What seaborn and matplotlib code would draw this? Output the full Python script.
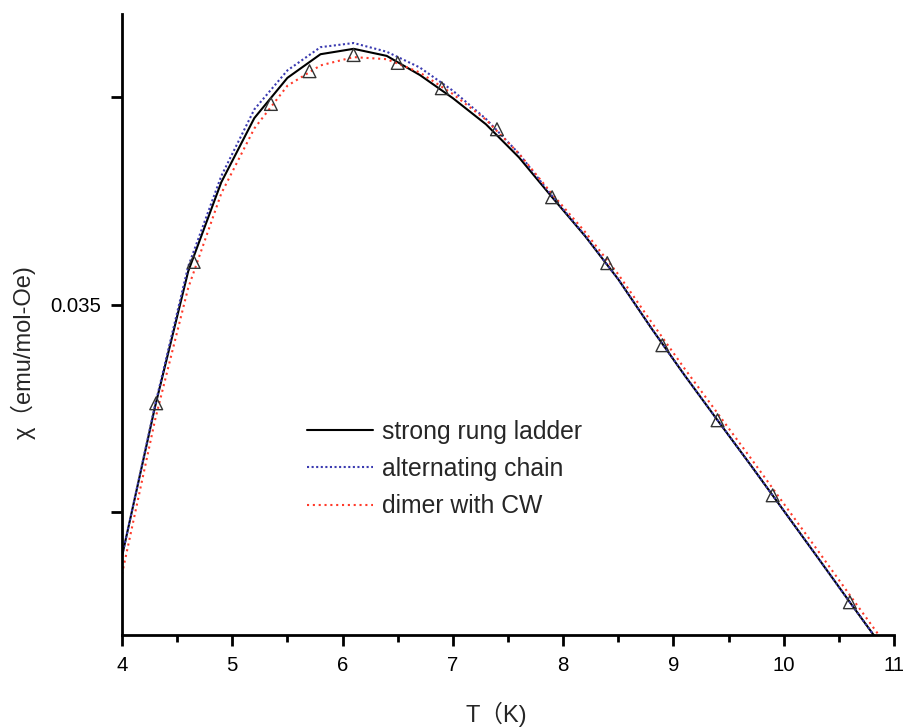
import numpy as np
import pandas as pd
import matplotlib
matplotlib.use("Agg")
import matplotlib.pyplot as plt
from matplotlib.ticker import MultipleLocator
import seaborn as sns

# ---- data ----
T_fit = [4.0, 4.3, 4.6, 4.9, 5.2, 5.5, 5.8, 6.1, 6.4, 6.7, 7.0, 7.3, 7.6, 7.9,
         8.2, 8.5, 8.8, 9.1, 9.4, 9.7, 10.0, 10.3, 10.6, 10.9]
chi_ladder = [0.02893, 0.03254, 0.03580, 0.03795, 0.03950, 0.04047, 0.04104, 0.04117,
              0.04100, 0.04054, 0.03998, 0.03935, 0.03855, 0.03759, 0.03665, 0.03561,
              0.03443, 0.03330, 0.03221, 0.03113, 0.03003, 0.02893, 0.02782, 0.02672]
chi_chain = [0.02893, 0.03258, 0.03592, 0.03810, 0.03971, 0.04065, 0.04121, 0.04131,
             0.04110, 0.04072, 0.04016, 0.03948, 0.03864, 0.03762, 0.03666, 0.03561,
             0.03443, 0.03330, 0.03221, 0.03113, 0.03003, 0.02893, 0.02782, 0.02672]
chi_dimer = [0.02850, 0.03222, 0.03540, 0.03768, 0.03925, 0.04028, 0.04077, 0.04097,
             0.04092, 0.04060, 0.04008, 0.03946, 0.03864, 0.03767, 0.03675, 0.03573,
             0.03458, 0.03346, 0.03238, 0.03130, 0.03020, 0.02910, 0.02799, 0.02689]

T_exp = [4.31, 4.65, 5.35, 5.70, 6.10, 6.50, 6.90, 7.40, 7.90, 8.40, 8.90, 9.40, 9.90, 10.60]
chi_exp = [0.03262, 0.03603, 0.03984, 0.04063, 0.04102, 0.04083, 0.04022, 0.03923,
           0.03759, 0.03600, 0.03402, 0.03221, 0.03040, 0.02782]

series_names = ["strong rung ladder", "alternating chain", "dimer with CW"]
ytick_values = [0.030, 0.035, 0.040]
ytick_labels = ["", "0.035", ""]
xtick_values = [4, 5, 6, 7, 8, 9, 10, 11]
xlabel = "T\uff08K)"
ylabel = "\u03c7\uff08emu/mol-Oe)"

# ---- build tables ----
fit_df = pd.DataFrame({
    "T": T_fit * 3,
    "chi": chi_ladder + chi_chain + chi_dimer,
    "model": [series_names[0]] * len(T_fit) + [series_names[1]] * len(T_fit)
             + [series_names[2]] * len(T_fit),
})
exp_df = pd.DataFrame({"T": T_exp, "chi": chi_exp})

sns.set_style("ticks")
plt.rcParams["font.family"] = ["Liberation Sans", "Noto Sans CJK SC", "DejaVu Sans"]

fig = plt.figure(figsize=(9.05, 7.27), dpi=100)
ax = fig.add_axes([122 / 905, 1 - 635 / 727, (894 - 122) / 905, (635 - 14) / 727])

palette = {series_names[0]: "black", series_names[1]: "#3a3ab0", series_names[2]: "#ff3a2a"}
dashes = {series_names[0]: "", series_names[1]: (1, 1.2), series_names[2]: (1, 1.8)}

sns.lineplot(data=fit_df, x="T", y="chi", hue="model", style="model",
             palette=palette, dashes=dashes, hue_order=series_names,
             style_order=series_names, linewidth=1.5, ax=ax, sort=False,
             estimator=None)

sns.scatterplot(data=exp_df, x="T", y="chi", marker="^", s=85,
                facecolor="none", edgecolor="#333333", linewidth=1.0, ax=ax,
                zorder=5, legend=False)

ax.set_xlim(4, 11)
ax.set_ylim(0.02703, 0.04201)
ax.set_xticks(xtick_values)
ax.xaxis.set_minor_locator(MultipleLocator(0.5))
ax.set_yticks(ytick_values)
ax.set_yticklabels(ytick_labels)

for side in ["top", "right"]:
    ax.spines[side].set_visible(False)
for side in ["left", "bottom"]:
    ax.spines[side].set_linewidth(2)
    ax.spines[side].set_color("black")

ax.tick_params(axis="both", which="major", length=8, width=2, labelsize=14.7,
               direction="out", color="black", labelcolor="black", pad=7)
ax.tick_params(axis="x", which="minor", length=5, width=2, color="black")

ax.set_xlabel(xlabel, fontsize=17)
ax.set_ylabel(ylabel, fontsize=17)
ax.xaxis.set_label_coords(0.485, -0.108)
ax.yaxis.set_label_coords(-0.112, 0.455)

handles, labels = ax.get_legend_handles_labels()
leg = ax.legend(handles, labels, loc="center left", bbox_to_anchor=(0.24, 0.2675),
                frameon=False, fontsize=17.8, handlelength=2.67, handletextpad=0.36,
                labelspacing=0.54, borderpad=0, borderaxespad=0)

fig.savefig("out.png", dpi=100, facecolor="white")
